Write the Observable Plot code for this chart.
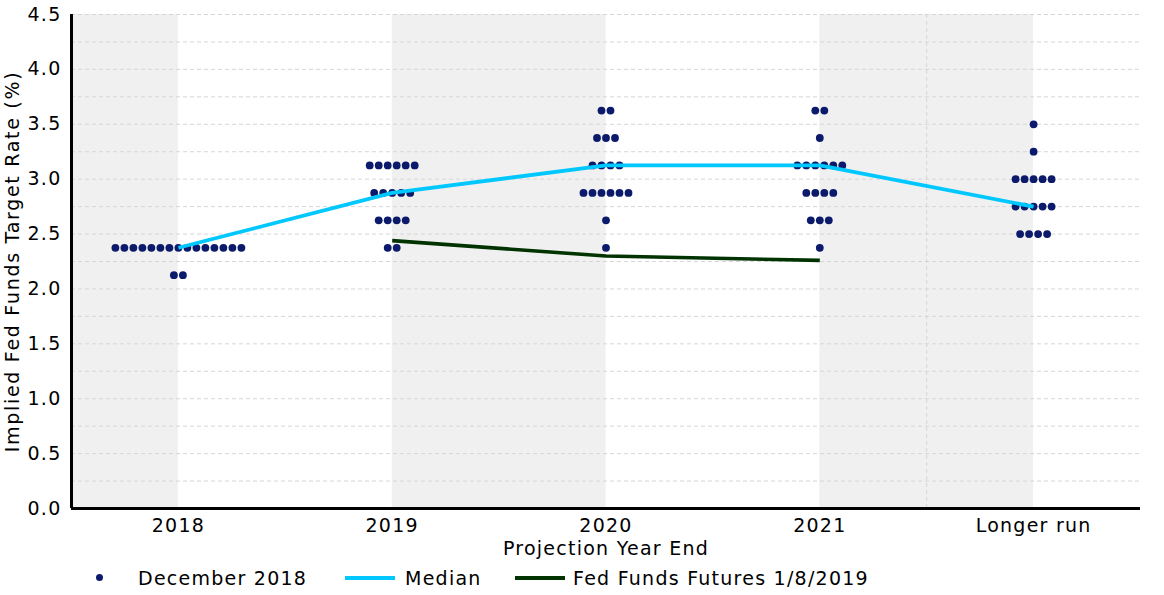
<!DOCTYPE html>
<html>
<head>
<meta charset="utf-8">
<script src="https://cdn.jsdelivr.net/npm/d3@7"></script>
<script src="https://cdn.jsdelivr.net/npm/@observablehq/plot@0.6"></script>
<style>
  body { margin: 0; background: #fff; font-family: "DejaVu Sans", sans-serif; }
  #chart { width: 1164px; }
  #chart svg text { letter-spacing: 1.25px; }
  #chart svg g[aria-label="y-axis label"] text { letter-spacing: 1.7px; }
  #legend { position: relative; width: 1164px; height: 35px; font-size: 19px; color: #000; letter-spacing: 1.25px; }
  #legend .item { position: absolute; top: 0; height: 35px; display: flex; align-items: center; white-space: nowrap; }
  #legend .sw-line { display: inline-block; width: 50px; height: 4px; }
  #legend .sw-dot { display: inline-block; width: 7px; height: 7px; border-radius: 50%; }
</style>
</head>
<body>
<div id="chart"></div>
<div id="legend"></div>
<script>
// ---- data ----
const categories = ["2018", "2019", "2020", "2021", "Longer run"];
// [rate, number of participants] per category
const dots2018 = [[2.375, 15], [2.125, 2]];
const dots2019 = [[3.125, 6], [2.875, 5], [2.625, 4], [2.375, 2]];
const dots2020 = [[3.625, 2], [3.375, 3], [3.125, 4], [2.875, 6], [2.625, 1], [2.375, 1]];
const dots2021 = [[3.625, 2], [3.375, 1], [3.125, 6], [2.875, 4], [2.625, 3], [2.375, 1]];
const dotsLongerRun = [[3.5, 1], [3.25, 1], [3.0, 5], [2.75, 5], [2.5, 4]];
const medianValues = [2.375, 2.875, 3.125, 3.125, 2.75];
const futuresCategories = ["2019", "2020", "2021"];
const futuresValues = [2.44, 2.30, 2.26];
const yTicks = [0, 0.5, 1, 1.5, 2, 2.5, 3, 3.5, 4, 4.5];
const gridTicks = d3.range(0, 4.5001, 0.25);
const shadeBands = [[-0.5, 0], [1, 2], [3, 4]];
const seriesNames = ["December 2018", "Median", "Fed Funds Futures 1/8/2019"];

// ---- build tables ----
const dotStep = 0.0421; // horizontal spacing of stacked dots, in category units
const dotGroups = [dots2018, dots2019, dots2020, dots2021, dotsLongerRun];
const dotData = [];
dotGroups.forEach((group, i) => {
  group.forEach(([rate, n]) => {
    for (let k = 0; k < n; k++) dotData.push({x: i + (k - (n - 1) / 2) * dotStep, y: rate});
  });
});
const medianData = medianValues.map((v, i) => ({x: i, y: v}));
const futuresData = futuresValues.map((v, i) => ({x: categories.indexOf(futuresCategories[i]), y: v}));
const bandData = shadeBands.map(([a, b]) => ({x1: a, x2: b}));

const dotColor = "#0b1a6a";
const medianColor = "#00c8ff";
const futuresColor = "#003300";

const chart = Plot.plot({
  width: 1164,
  height: 560,
  marginLeft: 71,
  marginRight: 24,
  marginTop: 14,
  marginBottom: 52,
  x: {domain: [-0.5, 4.5]},
  y: {domain: [0, 4.5]},
  style: {fontFamily: "DejaVu Sans, sans-serif", fontSize: "19px", color: "#000", background: "#fff"},
  marks: [
    Plot.rect(bandData, {x1: "x1", x2: "x2", y1: 0, y2: 4.5, fill: "#f0f0f0"}),
    Plot.gridY(gridTicks, {stroke: "#d6d6d6", strokeOpacity: 1, strokeDasharray: "4,3"}),
    Plot.ruleX([3.5], {stroke: "#d6d6d6", strokeDasharray: "4,3"}),
    Plot.axisY(yTicks, {
      tickSize: 0, tickPadding: 10, tickFormat: d => d.toFixed(1),
      label: "Implied Fed Funds Target Rate (%)", labelAnchor: "center", labelArrow: "none", labelOffset: 66
    }),
    Plot.axisX([0, 1, 2, 3, 4], {
      tickSize: 0, tickPadding: 10, tickFormat: i => categories[i],
      label: "Projection Year End", labelAnchor: "center", labelArrow: "none", labelOffset: 46
    }),
    Plot.dot(dotData, {x: "x", y: "y", r: 3.9, fill: dotColor, stroke: "none"}),
    Plot.line(medianData, {x: "x", y: "y", stroke: medianColor, strokeWidth: 3.8, strokeLinecap: "butt"}),
    Plot.line(futuresData, {x: "x", y: "y", stroke: futuresColor, strokeWidth: 3.6, strokeLinecap: "butt"}),
    Plot.ruleX([-0.5], {stroke: "#000", strokeWidth: 3}),
    Plot.ruleY([0], {stroke: "#000", strokeWidth: 3})
  ]
});
document.getElementById("chart").appendChild(chart);

// ---- legend ----
const legend = document.getElementById("legend");
const items = [
  {left: 96, swatch: `<span class="sw-dot" style="background:${dotColor}"></span>`, gap: 35, text: seriesNames[0]},
  {left: 345, swatch: `<span class="sw-line" style="background:${medianColor}"></span>`, gap: 10, text: seriesNames[1]},
  {left: 515, swatch: `<span class="sw-line" style="background:${futuresColor}"></span>`, gap: 8, text: seriesNames[2]}
];
items.forEach(it => {
  const d = document.createElement("div");
  d.className = "item";
  d.style.left = it.left + "px";
  d.innerHTML = it.swatch + `<span style="margin-left:${it.gap}px">${it.text}</span>`;
  legend.appendChild(d);
});
</script>
</body>
</html>
